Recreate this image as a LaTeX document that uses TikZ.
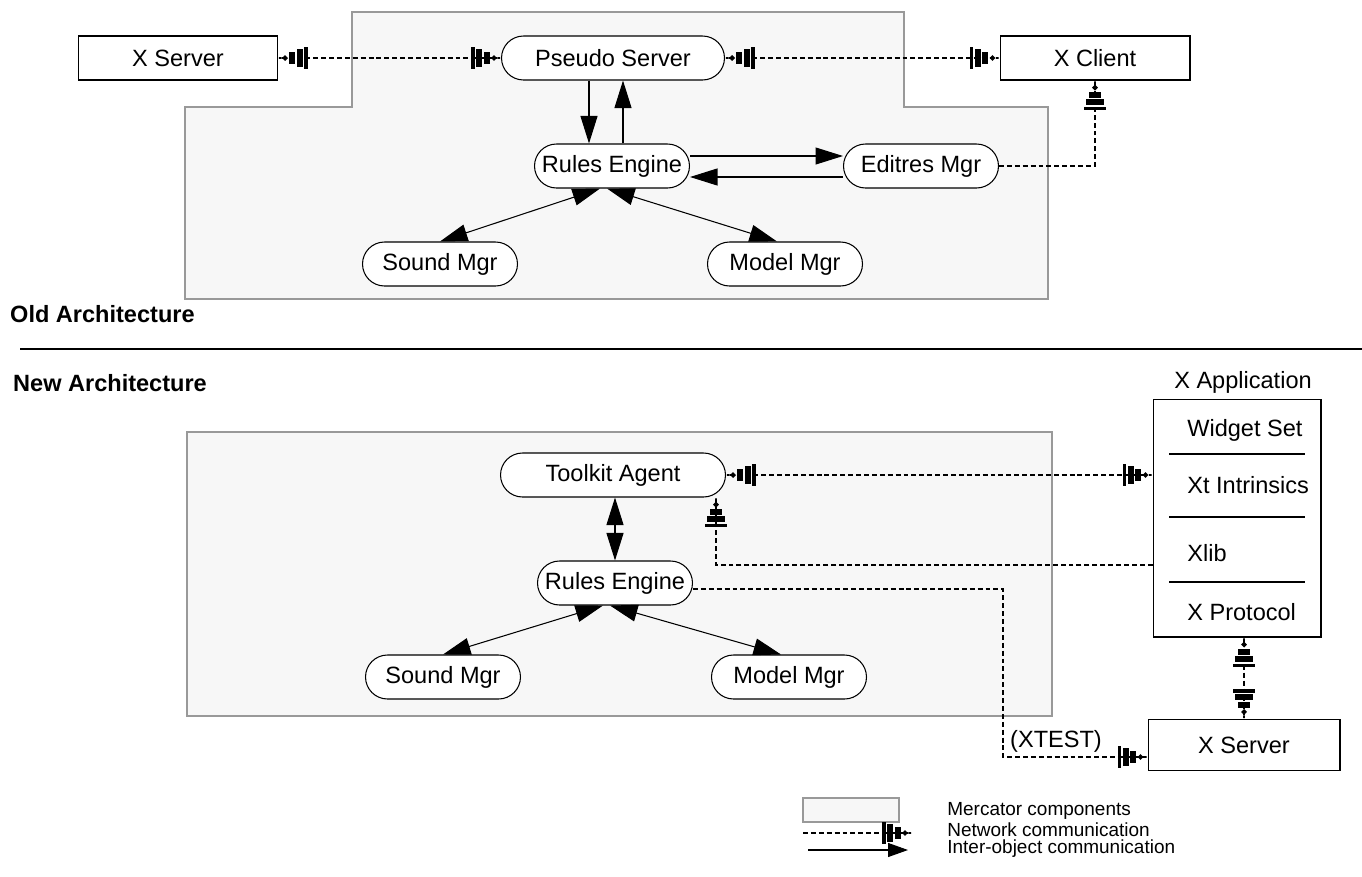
\documentclass[tikz,border=0pt]{standalone}
\usepackage{fontspec}
\setmainfont{Liberation Sans}
\usetikzlibrary{arrows.meta}

\tikzset{
  netend/.tip={Rectangle[length=2pt,width=12pt,sep=0.9pt] Rectangle[length=3.4pt,width=10pt,sep=0.9pt] Rectangle[length=3.4pt,width=6.5pt,sep=0.9pt] Circle[length=3pt,sep=0pt] Rectangle[length=2.5pt,width=0.9pt]},
  objend/.tip={Triangle[length=0.55cm,width=0.34cm]},
}

\begin{document}
\begin{tikzpicture}[x=0.02cm,y=-0.02cm,
  every node/.style={font=\fontsize{13.4}{16}\selectfont},
  box/.style={draw,line width=0.6pt,fill=white,minimum height=0.88cm,inner sep=0pt},
  agent/.style={box,rounded corners=0.44cm,minimum width=3.1cm},
  net/.style={dash pattern=on 2.8pt off 1.7pt,line width=0.9pt},
  obj/.style={line width=0.6pt},
  region/.style={draw=black!40,fill=black!3,line width=0.7pt},
  head/.style={font=\fontsize{13.4}{16}\selectfont\bfseries,anchor=west},
  legend/.style={font=\fontsize{10.8}{12}\selectfont,anchor=west,inner sep=0pt}]
\useasboundingbox (0,0) rectangle (1362,876);

% old architecture
\draw[region] (352,12) -- (904,12) -- (904,107) -- (1048,107) -- (1048,299)
  -- (185,299) -- (185,107) -- (352,107) -- cycle;
\node[box,minimum width=3.98cm] (xserver) at (178,58) {X Server};
\node[agent,minimum width=4.46cm] (pseudo) at (613,58) {Pseudo Server};
\node[box,minimum width=3.8cm] (xclient) at (1095,58) {X Client};
\node[agent] (rules) at (612,166) {Rules Engine};
\node[agent] (editres) at (921,166) {Editres Mgr};
\node[agent] (sound) at (440,264) {Sound Mgr};
\node[agent] (model) at (785,264) {Model Mgr};

\draw[net,netend-netend] (xserver) -- (pseudo);
\draw[net,netend-netend] (pseudo) -- (xclient);
\draw[net,-netend] (editres.east) -| (xclient.south);
\draw[obj,-objend] ([xshift=-0.48cm]pseudo.south) -- ([xshift=-0.48cm]pseudo.south |- rules.north);
\draw[obj,-objend] ([xshift=0.2cm]pseudo.south |- rules.north) -- ([xshift=0.2cm]pseudo.south);
\draw[obj,-objend] ([yshift=0.2cm]rules.east) -- ([yshift=0.2cm]rules.east -| editres.west);
\draw[obj,-objend] ([yshift=-0.22cm]editres.west) -- ([yshift=-0.22cm]editres.west -| rules.east);
\draw[obj,objend-objend] (sound.north) -- ([xshift=-0.24cm]rules.south);
\draw[obj,objend-objend] ([xshift=-0.16cm]model.north) -- ([xshift=-0.1cm]rules.south);

\node[head] (oldlbl) at (4,314) {Old Architecture};
\draw[line width=0.6pt] (20,349) -- (1362,349);
\node[head] (newlbl) at (7,383) {New Architecture};

% new architecture
\draw[region] (187,432) rectangle (1052,716);
\node[agent,minimum width=4.5cm] (toolkit) at (613,475) {Toolkit Agent};
\node[agent] (rules2) at (615,583) {Rules Engine};
\node[agent] (sound2) at (443,677) {Sound Mgr};
\node[agent] (model2) at (789,677) {Model Mgr};

\node (xapplbl) at (1243,382) {X Application};
\node[box,minimum width=3.36cm,minimum height=4.76cm] (xapp) at (1237,518) {};
\node[anchor=west,inner sep=0pt] (widget) at (1187,430) {Widget Set};
\node[anchor=west,inner sep=0pt] (xt) at (1187,485) {Xt Intrinsics};
\node[anchor=west,inner sep=0pt] (xlib) at (1187,553) {Xlib};
\node[anchor=west,inner sep=0pt] (xproto) at (1187,612) {X Protocol};
\draw[line width=0.6pt] (1169,454) -- (1305,454);
\draw[line width=0.6pt] (1169,517) -- (1305,517);
\draw[line width=0.6pt] (1169,582) -- (1305,582);
\node[box,minimum width=3.84cm,minimum height=1.02cm] (xserver2) at (1244,745) {X Server};

\draw[net,netend-netend] (toolkit) -- (toolkit -| xapp.west);
\coordinate (xlibport) at ([yshift=-0.94cm]xapp.west);
\draw[net,-netend] (xlibport) -| ([xshift=-0.2cm]toolkit.south east);
\coordinate (xtestbend) at (1003,757);
\draw[net,-netend] ([yshift=-0.12cm]rules2.east) -| (xtestbend) -- (xtestbend -| xserver2.west);
\node (xtest) at (1056,741) {(XTEST)};
\draw[net,netend-netend] (xserver2.north |- xapp.south) -- (xserver2.north);
\draw[obj,objend-objend] (toolkit.south -| rules2.north) -- (rules2.north);
\draw[obj,objend-objend] (sound2.north) -- ([xshift=-0.24cm]rules2.south);
\draw[obj,objend-objend] ([xshift=-0.16cm]model2.north) -- ([xshift=-0.1cm]rules2.south);

% legend
\node[region,minimum width=1.92cm,minimum height=0.48cm,inner sep=0pt] (legbox) at (851,810) {};
\node[legend] (legmerc) at (947,811) {Mercator components};
\node[legend] (legnet) at (947,830) {Network communication};
\node[legend] (legobj) at (947,849) {Inter-object communication};
\coordinate (netA) at (803,833);
\coordinate (netB) at (912,833);
\draw[net,-netend] (netA) -- (netB);
\coordinate (objA) at (808,850);
\coordinate (objB) at (908,850);
\draw[obj,-{Triangle[length=0.4cm,width=0.28cm]}] (objA) -- (objB);
\end{tikzpicture}
\end{document}
